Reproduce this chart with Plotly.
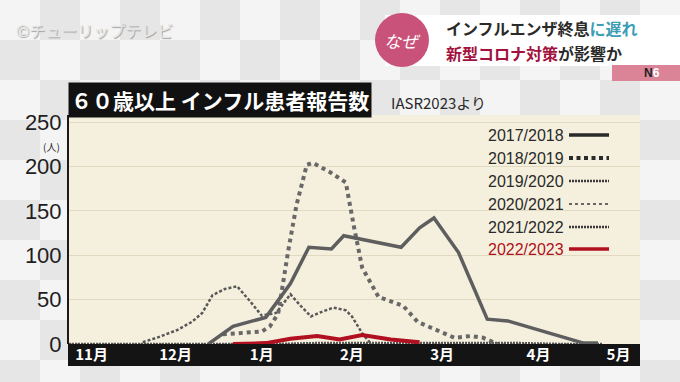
import plotly.graph_objects as go

# ---------------- data (x = weeks from the left edge of the chart, y = patients) ----------------
month_ticks = [1.1, 5.2, 9.4, 13.8, 18.2, 22.9, 26.8]
month_labels = ["11月", "12月", "1月", "2月", "3月", "4月", "5月"]
y_ticks = [0, 50, 100, 150, 200, 250]

x_1718 = [6.8, 8.0, 9.6, 10.8, 11.7, 12.8, 13.4, 16.2, 17.1, 17.8, 19.0, 20.4, 21.4, 25.1, 25.8]
y_1718 = [0, 20, 30, 68, 109, 107, 122, 109, 131, 142, 103, 28, 26, 1, 1]

x_1819 = [7.5, 9.4, 9.8, 10.2, 10.7, 11.1, 11.6, 11.9, 12.7, 13.5, 13.9, 14.3, 15.1, 16.3, 17.0, 17.6, 18.8, 19.6, 20.2, 20.9]
y_1819 = [11, 14, 20, 34, 106, 157, 202, 204, 194, 182, 132, 86, 53, 43, 25, 19, 7, 9, 7, 0]

x_1920 = [3.6, 4.4, 5.3, 6.0, 6.5, 7.0, 7.6, 8.2, 8.8, 9.4, 10.1, 10.8, 11.3, 11.8, 12.3, 12.9, 13.5, 13.8, 14.3, 14.7]
y_1920 = [2, 8, 16, 25, 35, 55, 62, 65, 49, 32, 35, 56, 43, 31, 36, 41, 38, 31, 12, 1]

x_2021 = [0, 2, 4, 6, 8, 10, 12, 14, 16, 18, 20, 22, 24, 26]
y_2021 = [0, 0, 0, 0, 0, 0, 0, 0, 0, 0, 0, 0, 0, 0]

x_2122 = [0, 2, 4, 6, 8, 10, 12, 14, 16, 18, 20, 22, 24, 26]
y_2122 = [0, 0, 0, 0, 0, 0, 1, 1, 1, 1, 1, 1, 0, 0]

x_2223 = [8.0, 9.6, 10.8, 12.1, 13.2, 14.3, 15.7, 17.1]
y_2223 = [0, 1, 6, 9, 5, 10, 5, 2]

season_names = ["2017/2018", "2018/2019", "2019/2020", "2020/2021", "2021/2022", "2022/2023"]

# ---------------- styles ----------------
GRAY_SOLID = "#5e5e5e"
GRAY_DOT = "#686868"
RED = "#b01020"
styles = [
    dict(color=GRAY_SOLID, width=3.5, dash="solid"),
    dict(color=GRAY_DOT, width=4, dash="4px,4px"),
    dict(color="#585858", width=2.5, dash="3px,2px"),
    dict(color="#8a8a8a", width=1.5, dash="3px,4px"),
    dict(color="#555555", width=2.5, dash="2px,1px"),
    dict(color=RED, width=4, dash="solid"),
]
legend_styles = [
    dict(color="#2a2a2a", width=3.5, dash="solid"),
    dict(color="#2a2a2a", width=4, dash="4px,3.5px"),
    dict(color="#3a3a3a", width=2.5, dash="2px,1px"),
    dict(color="#3a3a3a", width=1.5, dash="3px,3px"),
    dict(color="#3a3a3a", width=2.5, dash="2px,1px"),
    dict(color=RED, width=3.5, dash="solid"),
]

series = [(x_1718, y_1718), (x_1819, y_1819), (x_1920, y_1920),
          (x_2021, y_2021), (x_2122, y_2122), (x_2223, y_2223)]
draw_order = [3, 4, 2, 1, 0, 5]

fig = go.Figure()
for i in draw_order:
    xs, ys = series[i]
    fig.add_trace(go.Scatter(x=xs, y=ys, mode="lines", name=season_names[i],
                             line=dict(shape="linear", **styles[i]), showlegend=False,
                             hoverinfo="x+y+name"))

# ---------------- layout geometry ----------------
W, H = 680, 382
L, R, T, B = 69, 640, 115, 344
PW, PH = R - L, B - T


def px(p):
    return (p - L) / PW


def py(p):
    return (B - p) / PH


shapes = []
annotations = []

# checkered TV-studio background (decoration)
SQ = 40
for row in range(0, H // SQ + 1):
    for col in range(0, W // SQ + 1):
        if (row + col) % 2 == 0:
            shapes.append(dict(type="rect", xref="paper", yref="paper",
                               x0=px(col * SQ), x1=px(col * SQ + SQ),
                               y0=py(row * SQ + SQ), y1=py(row * SQ),
                               fillcolor="#f4f4f4", line=dict(width=0), layer="below"))

# cream plot panel
shapes.append(dict(type="rect", xref="paper", yref="paper", x0=0, x1=1, y0=0, y1=1,
                   fillcolor="#f5f0de", line=dict(width=0), layer="below"))
# black band behind month labels
shapes.append(dict(type="rect", xref="paper", yref="paper", x0=px(68), x1=px(640),
                   y0=py(366), y1=py(344), fillcolor="#141414", line=dict(width=0), layer="below"))

# title
annotations.append(dict(text="<b>６０歳以上 インフル患者報告数</b>", xref="paper", yref="paper",
                        x=px(68), y=py(100), xanchor="left", yanchor="middle", showarrow=False,
                        font=dict(family="Noto Sans CJK JP", size=21, color="white"),
                        bgcolor="#111111", borderpad=2))
annotations.append(dict(text="IASR2023より", xref="paper", yref="paper",
                        x=px(389), y=py(102), xanchor="left", yanchor="middle", showarrow=False,
                        font=dict(family="Noto Sans CJK JP", size=15, color="#2a2a2a")))
annotations.append(dict(text="(人)", xref="paper", yref="paper",
                        x=px(62), y=py(146), xanchor="right", yanchor="middle", showarrow=False,
                        font=dict(family="Noto Sans CJK JP", size=10, color="#2a2a2a")))

# legend (text then line sample)
rows = [135, 158, 181, 204, 227, 249]
for i, name in enumerate(season_names):
    annotations.append(dict(text=name, xref="paper", yref="paper", x=px(486), y=py(rows[i]),
                            xanchor="left", yanchor="middle", showarrow=False,
                            font=dict(family="Liberation Sans, Arial", size=16,
                                      color=RED if i == 5 else "#2a2a2a")))
    shapes.append(dict(type="line", xref="paper", yref="paper", x0=px(569), x1=px(609),
                       y0=py(rows[i]), y1=py(rows[i]), line=legend_styles[i]))

# broadcast banner
shapes.append(dict(type="rect", xref="paper", yref="paper", x0=px(385), x1=px(680),
                   y0=py(66), y1=py(15), fillcolor="white", line=dict(width=0), layer="below"))
shapes.append(dict(type="circle", xref="paper", yref="paper", x0=px(375), x1=px(429),
                   y0=py(67), y1=py(13), fillcolor="#c9527a", line=dict(width=0), layer="below"))
annotations.append(dict(text="<i>なぜ</i>", xref="paper", yref="paper", x=px(402), y=py(40),
                        xanchor="center", yanchor="middle", showarrow=False,
                        font=dict(family="Noto Sans CJK JP", size=17, color="white")))
annotations.append(dict(text="<b>インフルエンザ終息<span style='color:#3d9db5'>に遅れ</span></b>",
                        xref="paper", yref="paper", x=px(444), y=py(28),
                        xanchor="left", yanchor="middle", showarrow=False,
                        font=dict(family="Noto Sans CJK JP", size=16, color="#2a2a2a")))
annotations.append(dict(text="<b><span style='color:#a3123f'>新型コロナ対策</span>が影響か</b>",
                        xref="paper", yref="paper", x=px(444), y=py(53),
                        xanchor="left", yanchor="middle", showarrow=False,
                        font=dict(family="Noto Sans CJK JP", size=16, color="#2a2a2a")))
shapes.append(dict(type="rect", xref="paper", yref="paper", x0=px(612), x1=px(680),
                   y0=py(81), y1=py(65), fillcolor="#dc8497", line=dict(width=0), layer="below"))
annotations.append(dict(text="<b>N<span style='color:white'>6</span></b>", xref="paper", yref="paper",
                        x=px(652), y=py(73), xanchor="center", yanchor="middle", showarrow=False,
                        font=dict(family="Liberation Sans, Arial", size=12, color="#222222")))
annotations.append(dict(text="©チューリップテレビ", xref="paper", yref="paper",
                        x=px(14), y=py(30), xanchor="left", yanchor="middle", showarrow=False,
                        font=dict(family="Noto Sans CJK JP", size=16, color="#e6e6e6",
                                  shadow="1px 1px 1px #a0a0a0")))

fig.update_layout(
    width=W, height=H,
    margin=dict(l=L, r=W - R, t=T, b=H - B, pad=0),
    paper_bgcolor="#e6e6e6",
    plot_bgcolor="#f5f0de",
    shapes=shapes,
    annotations=annotations,
    showlegend=False,
    xaxis=dict(range=[0, 27.85], tickmode="array", tickvals=month_ticks, ticktext=month_labels,
               showgrid=False, zeroline=False, showline=False, ticks="", fixedrange=True,
               tickfont=dict(family="Noto Sans CJK JP", size=15, color="white", weight=700)),
    yaxis=dict(range=[0, 258], tickmode="array", tickvals=y_ticks,
               showgrid=True, gridcolor="#e2dac0", gridwidth=1, zeroline=False,
               showline=True, linecolor="#1a1a1a", linewidth=2, ticks="",
               ticklabelstandoff=1, fixedrange=True,
               tickfont=dict(family="Liberation Sans, Arial", size=22, color="#1e1e1e")),
)

fig.write_html("out.html", config={"displayModeBar": False},
               post_script="document.body.style.margin='0';document.body.style.padding='0';"
                           "document.body.style.overflow='hidden';")
